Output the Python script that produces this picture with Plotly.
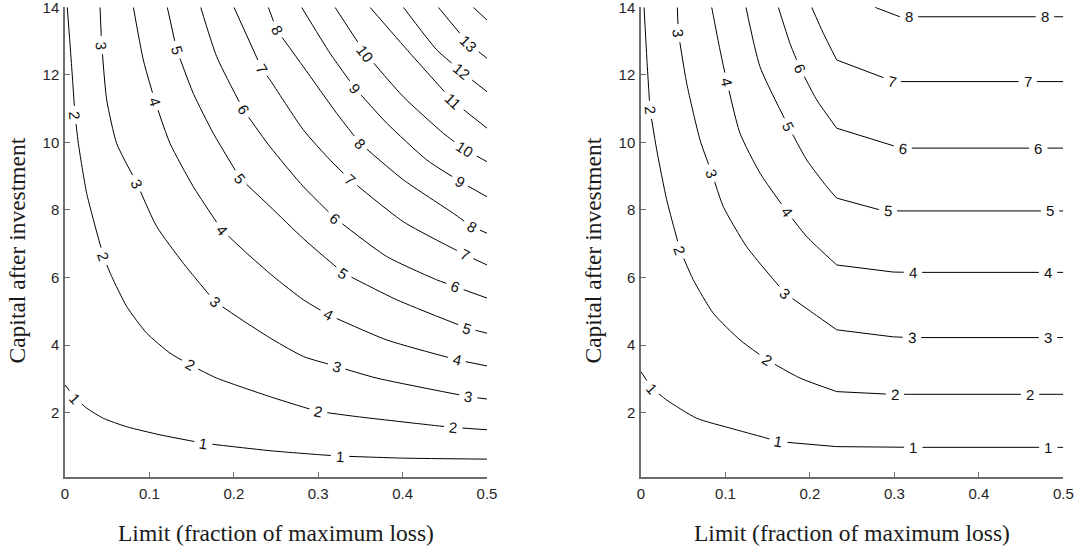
import math
import plotly.graph_objects as go

W, H = 1076, 548

# ---------------- axes data ----------------
x_range = [0.0, 0.5]
y_range = [0.1, 14.0]
x_ticks = [0, 0.1, 0.2, 0.3, 0.4, 0.5]
x_ticklabels = ["0", "0.1", "0.2", "0.3", "0.4", "0.5"]
y_ticks = [2, 4, 6, 8, 10, 12, 14]
y_ticklabels = ["2", "4", "6", "8", "10", "12", "14"]
x_title = "Limit (fraction of maximum loss)"
y_title = "Capital after investment"

# ---------------- left panel contour lines (level -> (x, y) points) ----------------
left_1 = [(0, 2.82), (0.0118, 2.43), (0.0257, 2.13), (0.0454, 1.83), (0.0731, 1.58), (0.1126, 1.34),
          (0.1639, 1.09), (0.2429, 0.87), (0.3021, 0.75), (0.3258, 0.71), (0.4009, 0.65), (0.5, 0.62)]
left_2 = [(0.0027, 14), (0.0079, 12.24), (0.0118, 10.81), (0.0158, 9.97), (0.0257, 8.49), (0.0454, 6.62),
          (0.0553, 6.03), (0.0731, 5.14), (0.0968, 4.35), (0.1244, 3.76), (0.148, 3.41), (0.1797, 3.02),
          (0.2429, 2.47), (0.2824, 2.16), (0.3001, 2.03), (0.3456, 1.88), (0.4404, 1.61), (0.46, 1.56),
          (0.5, 1.49)]
left_3 = [(0.0415, 14), (0.0434, 12.88), (0.0494, 11.26), (0.0612, 9.97), (0.0849, 8.79), (0.1086, 7.51),
          (0.1402, 6.42), (0.1777, 5.28), (0.2153, 4.65), (0.2468, 4.15), (0.2824, 3.66), (0.3219, 3.36),
          (0.3693, 3.02), (0.4778, 2.47), (0.5, 2.40)]
left_4 = [(0.081, 14), (0.0928, 12.44), (0.1066, 11.21), (0.1244, 9.97), (0.152, 8.69), (0.1856, 7.41),
          (0.2153, 6.72), (0.2468, 6.03), (0.2824, 5.34), (0.312, 4.89), (0.3812, 4.15), (0.4641, 3.56),
          (0.5, 3.38)]
left_5 = [(0.1212, 14), (0.1323, 12.74), (0.152, 11.45), (0.1757, 10.27), (0.2073, 8.94), (0.2429, 8.10),
          (0.2824, 7.15), (0.3297, 6.13), (0.393, 5.34), (0.4759, 4.50), (0.5, 4.35)]
left_6 = [(0.1608, 14), (0.1797, 12.54), (0.2113, 10.96), (0.2429, 9.87), (0.2824, 8.69), (0.3199, 7.75),
          (0.3812, 6.62), (0.4404, 5.93), (0.4621, 5.73), (0.5, 5.39)]
left_7 = [(0.2002, 14), (0.233, 12.19), (0.2429, 11.85), (0.2824, 10.37), (0.314, 9.48), (0.3377, 8.89),
          (0.4009, 7.65), (0.4739, 6.67), (0.5, 6.37)]
left_8 = [(0.2409, 14), (0.2508, 13.33), (0.2824, 12.24), (0.3219, 10.86), (0.3495, 9.97), (0.4009, 8.89),
          (0.4601, 7.90), (0.4818, 7.51), (0.5, 7.31)]
left_9 = [(0.2804, 14), (0.314, 12.64), (0.3436, 11.60), (0.3812, 10.57), (0.4286, 9.48), (0.468, 8.84),
          (0.5, 8.39)]
left_10 = [(0.3199, 14), (0.3555, 12.64), (0.4009, 11.35), (0.4482, 10.27), (0.4739, 9.78), (0.5, 9.43)]
left_11 = [(0.3614, 14), (0.4088, 12.64), (0.4601, 11.21), (0.5, 10.42)]
left_12 = [(0.4009, 14), (0.4404, 12.74), (0.47, 12.09), (0.5, 11.50)]
left_13 = [(0.4423, 14), (0.4778, 12.93), (0.5, 12.49)]
left_14 = [(0.4838, 14), (0.5, 13.62)]

left_lines = {1: left_1, 2: left_2, 3: left_3, 4: left_4, 5: left_5, 6: left_6, 7: left_7,
              8: left_8, 9: left_9, 10: left_10, 11: left_11, 12: left_12, 13: left_13, 14: left_14}

# contour labels: (level, x, y)
left_labels = [
    (1, 0.0118, 2.43), (1, 0.1639, 1.09), (1, 0.3258, 0.71),
    (2, 0.0118, 10.81), (2, 0.0454, 6.62), (2, 0.148, 3.41), (2, 0.3001, 2.03), (2, 0.46, 1.56),
    (3, 0.0434, 12.88), (3, 0.0849, 8.79), (3, 0.1777, 5.28), (3, 0.3219, 3.36), (3, 0.4778, 2.47),
    (4, 0.1066, 11.21), (4, 0.1856, 7.41), (4, 0.312, 4.89), (4, 0.4641, 3.56),
    (5, 0.1323, 12.74), (5, 0.2073, 8.94), (5, 0.3297, 6.13), (5, 0.4759, 4.50),
    (6, 0.2113, 10.96), (6, 0.3199, 7.75), (6, 0.4621, 5.73),
    (7, 0.233, 12.19), (7, 0.3377, 8.89), (7, 0.4739, 6.67),
    (8, 0.2508, 13.33), (8, 0.3495, 9.97), (8, 0.4818, 7.51),
    (9, 0.3436, 11.60), (9, 0.468, 8.84),
    (10, 0.3555, 12.64), (10, 0.4739, 9.78),
    (11, 0.4601, 11.21),
    (12, 0.47, 12.09),
    (13, 0.4778, 12.93),
]

# ---------------- right panel contour lines ----------------
right_kink_x = 0.2317
right_1 = [(0, 3.21), (0.0127, 2.72), (0.0304, 2.37), (0.066, 1.83), (0.1054, 1.54), (0.1448, 1.27),
           (0.1626, 1.14), (0.2317, 0.99), (0.3224, 0.97), (0.4822, 0.97), (0.5, 0.97)]
right_2 = [(0.0036, 14), (0.0075, 12.24), (0.0107, 10.96), (0.0186, 9.78), (0.0304, 8.30), (0.0462, 6.81),
           (0.0619, 5.93), (0.0856, 4.94), (0.1172, 4.15), (0.1488, 3.56), (0.1883, 3.02), (0.2317, 2.62),
           (0.2869, 2.55), (0.3007, 2.54), (0.4606, 2.54), (0.5, 2.54)]
right_3 = [(0.043, 14), (0.0442, 13.23), (0.0541, 11.75), (0.0699, 10.07), (0.0837, 9.09), (0.0974, 8.10),
           (0.1251, 6.91), (0.1705, 5.53), (0.204, 4.94), (0.2317, 4.45), (0.2987, 4.24), (0.3208, 4.22),
           (0.4819, 4.22), (0.5, 4.22)]
right_4 = [(0.0837, 14), (0.0935, 12.74), (0.1015, 11.80), (0.1172, 10.27), (0.1409, 9.09), (0.1725, 7.95),
           (0.1962, 7.21), (0.2317, 6.37), (0.2987, 6.16), (0.322, 6.15), (0.4819, 6.15), (0.5, 6.15)]
right_5 = [(0.1243, 14), (0.1409, 12.24), (0.1744, 10.47), (0.1962, 9.48), (0.2199, 8.69), (0.2317, 8.35),
           (0.283, 8.0), (0.2924, 7.97), (0.4843, 7.97), (0.5, 7.97)]
right_6 = [(0.1626, 14), (0.1764, 12.93), (0.1883, 12.19), (0.208, 11.26), (0.2317, 10.42), (0.2987, 9.90),
           (0.3098, 9.83), (0.4704, 9.83), (0.5, 9.83)]
right_7 = [(0.2021, 14), (0.2159, 13.23), (0.2317, 12.44), (0.2889, 11.90), (0.2968, 11.80), (0.4578, 11.80),
           (0.5, 11.80)]
right_8 = [(0.277, 14), (0.3047, 13.72), (0.3173, 13.72), (0.4783, 13.72), (0.5, 13.72)]

right_lines = {1: right_1, 2: right_2, 3: right_3, 4: right_4, 5: right_5, 6: right_6, 7: right_7, 8: right_8}

right_labels = [
    (1, 0.0127, 2.72), (1, 0.1626, 1.14), (1, 0.3224, 0.97), (1, 0.4822, 0.97),
    (2, 0.0107, 10.96), (2, 0.0462, 6.81), (2, 0.1488, 3.56), (2, 0.3007, 2.54), (2, 0.4606, 2.54),
    (3, 0.0442, 13.23), (3, 0.0837, 9.09), (3, 0.1705, 5.53), (3, 0.3208, 4.22), (3, 0.4819, 4.22),
    (4, 0.1015, 11.80), (4, 0.1725, 7.95), (4, 0.322, 6.15), (4, 0.4819, 6.15),
    (5, 0.1744, 10.47), (5, 0.2924, 7.97), (5, 0.4843, 7.97),
    (6, 0.1883, 12.19), (6, 0.3098, 9.83), (6, 0.4704, 9.83),
    (7, 0.2968, 11.80), (7, 0.4578, 11.80),
    (8, 0.3173, 13.72), (8, 0.4783, 13.72),
]

# ---------------- layout geometry / styles ----------------
left_dom = [65 / W, 487 / W]
right_dom = [641 / W, 1063.3 / W]
y_dom = [1 - 476.7 / H, 1 - 7.3 / H]

AX_COLOR = "#6e6e6e"
LABEL_SIZE = 15
TICK_FONT = dict(family="Liberation Sans, Arial, sans-serif", size=15, color="#262626")
LABEL_FONT = dict(family="Liberation Sans, Arial, sans-serif", size=LABEL_SIZE, color="#111111")
TITLE_FONT = dict(family="Liberation Serif, Times New Roman, serif", size=23.5, color="#1a1a1a")

fig = go.Figure()


def px_scale(dom):
    sx = (dom[1] - dom[0]) * W / (x_range[1] - x_range[0])
    sy = (y_dom[1] - y_dom[0]) * H / (y_range[1] - y_range[0])
    return sx, sy


class Poly:
    def __init__(self, P):
        self.P = P
        self.cum = [0.0]
        for i in range(len(P) - 1):
            self.cum.append(self.cum[-1] + math.hypot(P[i + 1][0] - P[i][0], P[i + 1][1] - P[i][1]))
        self.total = self.cum[-1]

    def at(self, s):
        P, cum = self.P, self.cum
        s = max(0.0, min(self.total, s))
        for i in range(len(P) - 1):
            if cum[i + 1] >= s:
                L = cum[i + 1] - cum[i]
                t = 0 if L == 0 else (s - cum[i]) / L
                return (P[i][0] + t * (P[i + 1][0] - P[i][0]), P[i][1] + t * (P[i + 1][1] - P[i][1]))
        return P[-1]

    def project(self, lx, ly):
        P = self.P
        best = None
        for i in range(len(P) - 1):
            (x0, y0), (x1, y1) = P[i], P[i + 1]
            dx, dy = x1 - x0, y1 - y0
            L = math.hypot(dx, dy)
            t = 0.0 if L == 0 else max(0.0, min(1.0, ((lx - x0) * dx + (ly - y0) * dy) / (L * L)))
            d = math.hypot(x0 + t * dx - lx, y0 + t * dy - ly)
            if best is None or d < best[0]:
                best = (d, self.cum[i] + t * L)
        return best[1]

    def pieces(self, gaps):
        kept, cur = [], 0.0
        for a, b in sorted(gaps):
            if a > cur:
                kept.append((cur, a))
            cur = max(cur, b)
        if cur < self.total:
            kept.append((cur, self.total))
        out = []
        for a, b in kept:
            seg = [self.at(a)] + [self.P[i] for i in range(len(self.P)) if a < self.cum[i] < b] + [self.at(b)]
            out.append(seg)
        return out


def add_panel(lines, labels, xref, yref, dom, kink=None):
    sx, sy = px_scale(dom)
    for lev, pts in lines.items():
        poly = Poly([(x * sx, y * sy) for x, y in pts])
        gaps = []
        for lv, lx, ly in labels:
            if lv != lev:
                continue
            s0 = poly.project(lx * sx, ly * sy)
            half = len(str(lev)) * 0.556 * LABEL_SIZE / 2 + 5
            a = poly.at(s0 - half)
            b = poly.at(s0 + half)
            # screen angle (y down): positive = clockwise
            ang = math.degrees(math.atan2(-(b[1] - a[1]), b[0] - a[0]))
            if ang > 90:
                ang -= 180
            if ang <= -90:
                ang += 180
            gaps.append((s0 - half, s0 + half))
            fig.add_annotation(x=lx, y=ly, xref=xref, yref=yref, text=str(lev), showarrow=False,
                               textangle=ang, font=LABEL_FONT, xanchor="center", yanchor="middle")
        for seg in poly.pieces(gaps):
            data = [(x / sx, y / sy) for x, y in seg]
            if kink is None:
                parts = [(data, "spline")]
            else:
                parts = [([p for p in data if p[0] <= kink + 1e-9], "spline"),
                         ([p for p in data if p[0] >= kink - 1e-9], "linear")]
            for part, shape in parts:
                if len(part) < 2:
                    continue
                fig.add_trace(go.Scatter(
                    x=[p[0] for p in part], y=[p[1] for p in part], mode="lines",
                    line=dict(color="black", width=1, shape=shape, smoothing=0.6),
                    xaxis=xref, yaxis=yref, hoverinfo="skip", showlegend=False))


add_panel(left_lines, left_labels, "x", "y", left_dom)
add_panel(right_lines, right_labels, "x2", "y2", right_dom, kink=right_kink_x)

axis_common = dict(showline=True, linecolor=AX_COLOR, linewidth=1.5, ticks="inside", ticklen=5,
                   tickwidth=1, tickcolor=AX_COLOR, showgrid=False, zeroline=False, mirror=False,
                   tickfont=TICK_FONT, fixedrange=True, ticklabeloverflow="allow", automargin=False)

fig.update_layout(
    width=W, height=H, margin=dict(l=0, r=0, t=0, b=0, autoexpand=False),
    paper_bgcolor="white", plot_bgcolor="white", showlegend=False,
    xaxis=dict(domain=left_dom, range=x_range, tickvals=x_ticks, ticktext=x_ticklabels,
               anchor="y", ticklabelstandoff=3, **axis_common),
    yaxis=dict(domain=y_dom, range=y_range, tickvals=y_ticks, ticktext=y_ticklabels,
               anchor="x", ticklabelstandoff=1, **axis_common),
    xaxis2=dict(domain=right_dom, range=x_range, tickvals=x_ticks, ticktext=x_ticklabels,
                anchor="y2", ticklabelstandoff=3, **axis_common),
    yaxis2=dict(domain=y_dom, range=y_range, tickvals=y_ticks, ticktext=y_ticklabels,
                anchor="x2", ticklabelstandoff=1, **axis_common),
)

# axis titles
for dom, ytx in ((left_dom, 16.5 / W), (right_dom, 592.5 / W)):
    fig.add_annotation(x=(dom[0] + dom[1]) / 2, y=1 - 533 / H, xref="paper", yref="paper",
                       text=x_title, showarrow=False, font=TITLE_FONT,
                       xanchor="center", yanchor="middle")
    fig.add_annotation(x=ytx, y=1 - 251 / H, xref="paper", yref="paper",
                       text=y_title, showarrow=False, font=TITLE_FONT, textangle=-90,
                       xanchor="center", yanchor="middle")

fig.write_html("out.html")
